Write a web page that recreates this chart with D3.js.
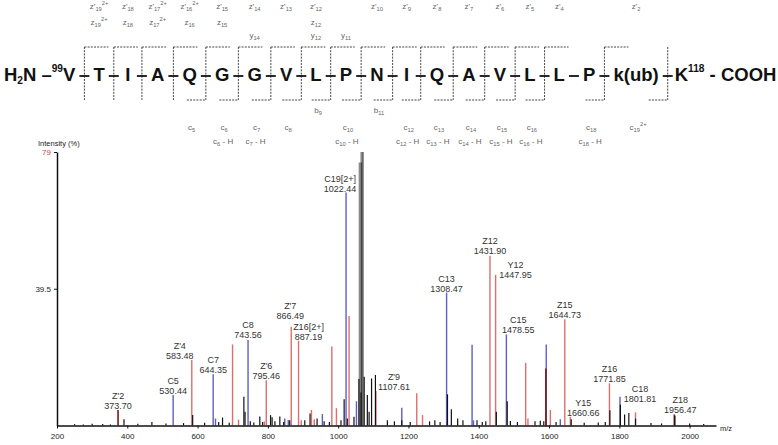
<!DOCTYPE html>
<html><head><meta charset="utf-8">
<script src="https://cdn.jsdelivr.net/npm/d3@7"></script>
<style>
html,body{margin:0;padding:0;background:#fff;}
svg{display:block;font-family:"Liberation Sans",Arial,sans-serif;}
</style></head>
<body><svg id="chart" width="778" height="445"></svg>
<script>
// ---------- DATA ----------
const residues = ["V","T","I","A","Q","G","G","V","L","P","N","I","Q","A","V","L","L","P","k(ub)","K"];
const uncleavedSites = [17];
// C-terminal fragment ions (number of residues, charge)
const zPrimeIons = [[19,"2+"],[18,""],[17,"2+"],[16,"2+"],[15,""],[14,""],[13,""],[12,""],[10,""],[9,""],[8,""],[7,""],[6,""],[5,""],[4,""],[2,""]];
const zIons = [[19,"2+"],[18,""],[17,"2+"],[16,""],[15,""],[12,""]];
const yIons = [14,12,11];
// N-terminal fragment ions
const bIons = [9,11];
const cIons = [[5,""],[6,""],[7,""],[8,""],[10,""],[12,""],[13,""],[14,""],[15,""],[16,""],[18,""],[19,"2+"]];
const cHIons = [6,7,10,12,13,14,15,16,18];

// spectrum: [m/z, intensity %]
const grayPeaks = [[1062,76],[1067,79]];
const redPeaks = [[583.48,18.9],[699.5,23.4],[716.5,1.7],[790,1.2],[795.46,13.1],[866.49,28.5],[887.19,24.5],[895,1.5],[924,4.5],[932,1.8],[982,22.8],[995,5.0],[1031,31.6],[1107.61,10.0],[1223.6,9.3],[1240,3.0],[1431.90,49.0],[1447.95,43.5],[1533.5,18.1],[1540,2.0],[1603.7,4.5],[1644.73,30.7],[1660.66,2.5],[1771.85,12.2],[1846,3.8]];
const bluePeaks = [[530.44,8.8],[644.35,14.8],[651,2.0],[743.56,24.7],[848,2.0],[858,1.6],[955,3.3],[1022.44,67.3],[1052,7.0],[1181,5.1],[1308.47,38.4],[1381,23.3],[1385,1.5],[1478.55,26.3],[1592,23.4],[1632,1.8],[1801.81,8.3]];
const darkRedPeaks = [[373.70,4.5],[1591,16.5],[1956.47,3.2]];
const blackPeaks = [[250,0.4],[275,0.3],[300,0.5],[330,0.4],[352,0.3],[390.6,1.8],[430,0.5],[470,1.0],[510,0.6],[560,0.7],[586,3.0],[620,0.8],[660,1.0],[671,2.3],[690,0.8],[731.7,8.3],[735,4.0],[750,1.2],[760,0.9],[777,2.6],[785,1.0],[807.6,3.0],[812,2.4],[820,1.2],[834,2.6],[845,1.0],[862,1.5],[905,1.5],[920,3.5],[940,2.0],[960,1.2],[975,1.0],[1008,1.5],[1017,7.6],[1026,2.0],[1045,2.5],[1059,13.4],[1065,9.5],[1074,14.1],[1083,8.8],[1088,4.0],[1095,13.6],[1106,14.6],[1140,1.5],[1160,1.2],[1181,1.5],[1205,1.0],[1260,1.2],[1275,1.5],[1290,1.0],[1311,9.0],[1322,4.7],[1340,2.0],[1355,1.5],[1395,1.5],[1410,1.0],[1420,1.2],[1450,4.0],[1481,7.0],[1490,1.3],[1510,1.0],[1560,1.2],[1575,1.4],[1585,1.2],[1620,1.0],[1663,1.8],[1700,0.8],[1740,0.9],[1760,1.0],[1773,4.4],[1803,6.0],[1815,3.2],[1827,3.6],[1846,2.0],[1890,0.7],[1920,0.6],[1958,2.8],[2000,0.6],[2040,0.4]];
const annotations = [["Z'2",373.70],["C5",530.44],["Z'4",583.48],["C7",644.35],["C8",743.56],["Z'6",795.46],["Z'7",866.49],["Z16[2+]",887.19],["C19[2+]",1022.44],["Z'9",1107.61],["C13",1308.47],["Z12",1431.90],["Y12",1447.95],["C15",1478.55],["Z15",1644.73],["Y15",1660.66],["Z16",1771.85],["C18",1801.81],["Z18",1956.47]];
const xTicks = [200,400,600,800,1000,1200,1400,1600,1800,2000];
const yTicks = [39.5,79];
const yMax = 79;

// ---------- DRAW ----------
const svg = d3.select("#chart");
svg.append("rect").attr("width",778).attr("height",445).attr("fill","#fff");

function rich(g, x, y, parts, size, anchor, opts) {
  opts = opts || {};
  const t = g.append("text").attr("x",x).attr("y",y).attr("text-anchor",anchor||"start")
    .style("font-size",size+"px");
  let shift = 0;
  parts.forEach(([s,kind])=>{
    if (s==="" ) return;
    const target = kind==="sub" ? (opts.sub||size*0.3) : kind==="sup" ? -(opts.sup||size*0.45) : 0;
    const sp = t.append("tspan").attr("dy", target - shift).text(s);
    if (kind) sp.style("font-size",(size*(opts.scale||0.72))+"px");
    shift = target;
  });
  return t;
}

// ---- peptide sequence ----
const seqG = svg.append("g").attr("fill","#111").style("font-weight","bold");
const seqFont = 18.5, gap = 18.1, baseY = 80.5;
let cursor = 63;
const centers = [], lw = [];
residues.slice(0,19).forEach((r)=>{
  const t = seqG.append("text").attr("y",baseY).style("font-size",seqFont+"px").attr("text-anchor","middle").text(r);
  const w = t.node().getComputedTextLength();
  const wl = Math.max(w,10);
  const c = cursor + wl/2;
  t.attr("x",c);
  centers.push(c); lw.push(wl);
  cursor += wl + gap;
});
const siteX = k => k < 19 ? ((centers[k-1]+lw[k-1]/2) + (centers[k]-lw[k]/2))/2 : centers[18]+lw[18]/2+gap/2;
// prefix and suffix
rich(seqG, centers[0]-lw[0]/2, baseY, [["H",""],["2","sub"],["N –",""],["99","sup"]], seqFont, "end", {sub:3, sup:9, scale:0.55});
rich(seqG, siteX(19)+7, baseY, [["K",""],["118","sup"],[" - COOH",""]], seqFont, "start", {sup:9, scale:0.55});

// fragmentation brackets
const topSites = new Set([...zPrimeIons.map(d=>20-d[0]), ...zIons.map(d=>20-d[0]), ...yIons.map(n=>20-n)]);
const botSites = new Set([...cIons.map(d=>d[0]), ...cHIons, ...bIons]);
const brG = svg.append("g").attr("stroke","#444").attr("stroke-width",1).attr("stroke-dasharray","2,1.2").attr("fill","none");
const yTop = 47, yBot = 100;
d3.range(1,20).forEach(k=>{
  const x = siteX(k);
  svg.append("line").attr("x1",x-5).attr("x2",x+5).attr("y1",76).attr("y2",76).attr("stroke","#111").attr("stroke-width",1.8);
  if (uncleavedSites.includes(k)) return;
  brG.append("line").attr("x1",x).attr("x2",x).attr("y1",yTop).attr("y2",yBot);
  if (topSites.has(k)) brG.append("line").attr("x1",x).attr("x2",x+24).attr("y1",yTop).attr("y2",yTop);
  if (botSites.has(k)) brG.append("line").attr("x1",x-19).attr("x2",x).attr("y1",yBot).attr("y2",yBot);
});

// ion labels
const lblG = svg.append("g").attr("fill","#666");
const ionSize = 8;
zPrimeIons.forEach(([n,ch])=> rich(lblG, centers[20-n], 9, [["z'",""],[String(n),"sub"],[ch,"sup"]], ionSize, "middle"));
zIons.forEach(([n,ch])=> rich(lblG, centers[20-n], 25, [["z",""],[String(n),"sub"],[ch,"sup"]], ionSize, "middle"));
yIons.forEach(n=> rich(lblG, centers[20-n], 38, [["y",""],[String(n),"sub"]], ionSize, "middle"));
bIons.forEach(n=> rich(lblG, centers[n-1]+2, 113, [["b",""],[String(n),"sub"]], ionSize, "middle"));
cIons.forEach(([n,ch])=> rich(lblG, centers[n-1]+2, 130, [["c",""],[String(n),"sub"],[ch,"sup"]], ionSize, "middle"));
cHIons.forEach(n=> rich(lblG, centers[n-1]+1, 144, [["c",""],[String(n),"sub"],[" - H",""]], ionSize, "middle"));

// ---- spectrum ----
const x = d3.scaleLinear().domain([200,2075]).range([57,716]);
const y = d3.scaleLinear().domain([0,yMax]).range([425.5,152]);

const specG = svg.append("g");
function peaks(data, color, width) {
  specG.append("g").selectAll("line").data(data).join("line")
    .attr("x1",d=>x(d[0])).attr("x2",d=>x(d[0]))
    .attr("y1",y(0)).attr("y2",d=>y(d[1]))
    .attr("stroke",color).attr("stroke-width",width);
}
peaks(grayPeaks, "#8a8a8a", 2.6);
specG.append("g").selectAll("line").data(grayPeaks).join("line")
  .attr("x1",d=>x(d[0])+1.4).attr("x2",d=>x(d[0])+1.4).attr("y1",y(0)).attr("y2",d=>y(d[1]))
  .attr("stroke","#222").attr("stroke-width",0.8);
peaks(redPeaks, "#de6e6e", 1.4);
peaks(bluePeaks, "#5e5ec8", 1.4);
peaks(darkRedPeaks, "#7a1818", 1.6);
peaks(blackPeaks, "#111", 1.2);

// annotations
const allColored = [...redPeaks, ...bluePeaks, ...darkRedPeaks];
const labelOffset = {"Z'4":[-12,0],"Z'7":[-1,-7],"Z16[2+]":[10,0],"C19[2+]":[-6,0],"Z'9":[18,0],"Y12":[20,4],"C15":[12,0],"Y15":[13,0],"C18":[20,6],"Z18":[6,0],"Z12":[0,-1],"C8":[0,-1]};
const annG = svg.append("g").attr("fill","#333").style("font-size","9px");
annotations.forEach(([name,mz])=>{
  const p = allColored.find(d=>Math.abs(d[0]-mz)<0.01);
  const off = labelOffset[name] || [0,0];
  const px = x(mz)+off[0], py = y(p[1]) - 1 + off[1];
  annG.append("text").attr("x",px).attr("y",py).attr("text-anchor","middle").text(mz.toFixed(2));
  annG.append("text").attr("x",px).attr("y",py-10).attr("text-anchor","middle").text(name);
});

// axes
const xAxis = d3.axisBottom(x).tickValues(xTicks).tickSize(3).tickSizeOuter(0).tickFormat(d3.format("d"));
const gx = svg.append("g").attr("transform","translate(0,425.5)").call(xAxis);
gx.select(".domain").attr("stroke","#111").attr("stroke-width",1.5);
gx.selectAll(".tick line").attr("stroke","#111");
gx.selectAll(".tick text").attr("fill","#222").style("font-size","8px").attr("dy","0.9em").style("font-family","Liberation Sans, Arial");

const yAxis = d3.axisLeft(y).tickValues(yTicks).tickSize(3).tickSizeOuter(0).tickFormat(d=>String(d));
const gy = svg.append("g").attr("transform","translate(57,0)").call(yAxis);
gy.select(".domain").attr("stroke","#111").attr("stroke-width",1.5);
gy.selectAll(".tick line").attr("stroke","#111");
gy.selectAll(".tick text").style("font-size","8px").style("font-family","Liberation Sans, Arial")
  .attr("fill",d=>d===yMax?"#d04848":"#222");

svg.append("text").attr("x",38).attr("y",146).style("font-size","7.5px").attr("fill","#222").text("Intensity (%)");
svg.append("text").attr("x",720).attr("y",431).style("font-size","7.5px").attr("fill","#222").text("m/z");
</script>
</body></html>
